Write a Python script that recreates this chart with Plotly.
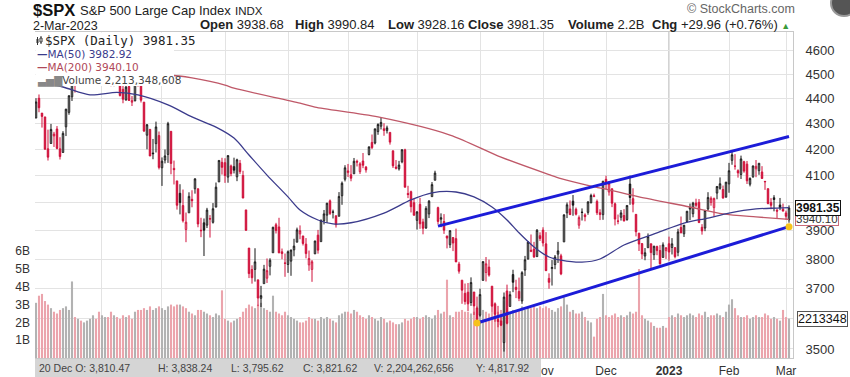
import math
import pandas as pd
import plotly.graph_objects as go

# ---------------- data ----------------
holidays = ["2022-04-15", "2022-05-30", "2022-06-20", "2022-07-04", "2022-09-05",
            "2022-11-24", "2022-12-26", "2023-01-02", "2023-01-16", "2023-02-20"]
dates = [d.strftime("%Y-%m-%d") for d in pd.bdate_range("2022-03-02", "2023-03-02")
         if d.strftime("%Y-%m-%d") not in holidays]

prev_close_before = 4306.26

opens = [
    4322.56, 4401.31, 4342.12, 4327.01, 4202.66, 4223.10, 4252.55, 4279.50, 4202.75, 4188.82, 4288.14, 4345.11, 4407.34, 4462.40, 4469.10, 4493.10, 4469.98, 4522.66, 4541.09, 4602.86, 4624.20, 4599.02,
    4540.32, 4547.97, 4572.45, 4494.17, 4474.65, 4494.15, 4462.64, 4437.59, 4394.30, 4449.12, 4385.63, 4390.63, 4472.26, 4489.17, 4385.83, 4255.34, 4278.14, 4186.52, 4222.58, 4253.75,
    4130.61, 4159.78, 4181.18, 4270.43, 4128.17, 4081.27, 4035.18, 3990.08, 3903.95, 3963.90, 4013.02, 4052.00, 4051.98, 3899.00, 3927.76, 3919.42, 3942.94, 3929.59, 3984.60, 4077.43, 4151.09,
    4149.78, 4095.41, 4137.57, 4134.72, 4096.47, 4147.12, 4101.65, 3974.39, 3838.15, 3763.52, 3764.05, 3728.18, 3665.90, 3715.31, 3733.89, 3774.71, 3821.75, 3920.76, 3913.00, 3825.09, 3785.99,
    3781.00, 3792.61, 3831.98, 3858.85, 3888.26, 3880.94, 3851.95, 3779.67, 3763.99, 3818.00, 3883.79, 3860.73, 3935.32, 3955.47, 4007.51, 3965.72, 3953.22, 3951.43, 4026.13, 4087.33,
    4112.38, 4104.21, 4107.96, 4154.85, 4115.87, 4155.93, 4133.11, 4181.02, 4227.40, 4225.02, 4269.37, 4290.46, 4280.40, 4273.13, 4266.31, 4195.08, 4133.09, 4126.55, 4153.26, 4198.74, 4034.58, 4041.25, 4000.67,
    3936.73, 3994.66, 3930.89, 3909.43, 3959.94, 4022.94, 4083.67, 3982.71, 3940.73, 3932.41, 3880.95, 3849.91, 3875.23, 3871.40, 3782.36, 3727.14, 3682.72, 3686.44, 3651.94, 3687.01, 3633.48,
    3609.78, 3726.46, 3753.25, 3771.97, 3706.74, 3647.51, 3595.86, 3590.83, 3520.37, 3690.41, 3638.65, 3746.26, 3703.11, 3689.05, 3657.10, 3762.01, 3799.44, 3825.97, 3834.69, 3808.26, 3881.85,
    3901.79, 3852.90, 3733.25, 3766.98, 3780.71, 3817.02, 3810.94, 3859.89, 3963.72, 3977.97, 4006.41, 3976.82, 3919.26, 3966.39, 3956.23, 3965.51, 4000.30, 4023.34, 4005.36, 3964.19, 3957.18,
    4087.14, 4040.17, 4052.02, 3996.63, 3933.28, 3947.79, 3954.17, 3939.29, 4069.38, 4015.54, 3958.37, 3890.91, 3853.79, 3810.47, 3839.49, 3853.26, 3815.11, 3843.34, 3829.56, 3805.45, 3829.06,
    3853.29, 3840.36, 3839.74, 3823.37, 3910.82, 3888.57, 3932.35, 3977.57, 3960.60, 3999.28, 4002.25, 3911.84, 3909.04, 3978.14, 4001.74, 3982.71, 4036.08, 4053.72, 4049.27, 4020.85,
    4070.07, 4158.68, 4136.69, 4119.57, 4105.35, 4153.47, 4144.25, 4068.92, 4096.62, 4126.70, 4119.50, 4114.75, 4077.39, 4052.35, 4001.83, 4018.60, 3973.24, 3992.36, 3977.19,
    3963.34, 3938.68,
]
highs = [
    4401.48, 4416.78, 4342.12, 4327.01, 4276.94, 4299.40, 4268.28, 4291.01, 4247.57, 4271.05, 4358.90, 4412.67, 4465.40, 4481.75, 4522.00, 4501.07, 4520.58, 4546.03, 4575.65, 4637.30, 4627.77, 4603.07,
    4548.70, 4583.50, 4593.45, 4503.94, 4521.16, 4520.41, 4464.35, 4471.00, 4453.92, 4460.46, 4410.31, 4471.03, 4488.29, 4512.94, 4385.83, 4299.02, 4278.14, 4240.71, 4308.45, 4269.68,
    4169.81, 4200.10, 4307.66, 4270.43, 4157.69, 4081.27, 4068.82, 4049.09, 3964.80, 4038.88, 4046.46, 4090.72, 4051.98, 3945.96, 3943.42, 3981.88, 3955.68, 3999.33, 4075.14, 4158.49, 4168.34,
    4166.54, 4177.51, 4142.67, 4168.78, 4164.86, 4160.14, 4119.10, 3974.39, 3838.15, 3778.18, 3837.56, 3728.18, 3707.71, 3779.65, 3801.79, 3802.58, 3913.65, 3927.72, 3945.86, 3836.50, 3818.99,
    3829.82, 3832.19, 3870.91, 3910.63, 3918.50, 3880.94, 3873.41, 3829.44, 3796.41, 3863.62, 3902.44, 3939.81, 3974.13, 3999.29, 4012.44, 3975.30, 3953.22, 4039.56, 4078.95, 4140.15,
    4144.95, 4140.47, 4167.66, 4161.29, 4151.58, 4186.62, 4137.30, 4211.03, 4257.91, 4280.47, 4301.79, 4325.28, 4302.18, 4292.53, 4266.31, 4195.08, 4159.77, 4156.56, 4200.54, 4203.04, 4062.99, 4044.98, 4015.37,
    3970.23, 4018.43, 3942.55, 3987.89, 4010.50, 4076.81, 4119.28, 3986.16, 3961.94, 3959.14, 3880.95, 3900.45, 3876.01, 3907.07, 3790.20, 3727.14, 3715.67, 3717.53, 3736.74, 3687.01, 3671.44,
    3698.35, 3791.92, 3806.91, 3797.93, 3706.74, 3652.17, 3640.66, 3608.34, 3685.41, 3712.00, 3689.73, 3762.79, 3728.58, 3736.00, 3757.89, 3810.74, 3862.85, 3886.15, 3859.95, 3905.42, 3893.73,
    3911.79, 3894.44, 3750.59, 3796.34, 3813.95, 3859.40, 3818.20, 3958.33, 4001.48, 4008.97, 4028.84, 3983.09, 3954.33, 3979.89, 3962.00, 4005.88, 4033.78, 4034.02, 4012.27, 3976.77, 4080.11,
    4100.51, 4080.48, 4052.45, 4001.51, 3957.57, 3974.19, 3977.02, 3990.71, 4100.96, 4053.76, 3958.37, 3890.91, 3854.86, 3838.24, 3889.82, 3853.26, 3845.80, 3846.65, 3848.32, 3858.19, 3839.85,
    3878.46, 3873.16, 3839.74, 3906.19, 3950.57, 3919.83, 3970.07, 3997.76, 4003.95, 4015.39, 4014.16, 3922.94, 3972.96, 4039.31, 4023.92, 4019.55, 4061.57, 4094.21, 4063.85, 4077.16,
    4148.95, 4195.44, 4182.36, 4124.63, 4176.54, 4156.85, 4156.23, 4094.36, 4138.90, 4159.77, 4148.11, 4136.54, 4081.51, 4052.35, 4017.37, 4028.30, 3978.25, 4018.05, 3997.50,
    3971.73, 3990.84,
]
lows = [
    4322.56, 4345.56, 4284.98, 4199.85, 4157.87, 4223.10, 4209.80, 4200.49, 4161.72, 4187.90, 4251.99, 4335.65, 4390.57, 4424.30, 4469.10, 4455.81, 4465.17, 4501.07, 4517.69, 4581.32, 4588.18, 4530.41,
    4507.57, 4539.21, 4514.17, 4450.04, 4450.30, 4474.60, 4408.38, 4381.34, 4392.70, 4390.77, 4370.30, 4390.63, 4448.76, 4384.47, 4267.62, 4200.82, 4175.04, 4162.90, 4188.63, 4124.28,
    4062.51, 4147.08, 4148.91, 4106.01, 4067.91, 3975.48, 3958.17, 3928.82, 3858.87, 3963.90, 3983.99, 4033.93, 3911.91, 3876.58, 3810.32, 3909.04, 3875.13, 3925.03, 3984.60, 4077.43, 4104.88,
    4073.85, 4074.37, 4098.67, 4109.18, 4080.19, 4107.20, 4017.17, 3900.16, 3734.30, 3715.31, 3722.30, 3639.77, 3636.87, 3715.31, 3717.69, 3743.52, 3821.75, 3889.66, 3820.14, 3799.02, 3738.67,
    3752.10, 3742.06, 3809.37, 3858.85, 3869.34, 3847.22, 3802.36, 3759.07, 3721.56, 3817.18, 3818.63, 3860.73, 3922.03, 3927.64, 3955.77, 3943.46, 3910.74, 3951.43, 3992.97, 4079.22,
    4096.02, 4079.81, 4107.96, 4135.42, 4107.31, 4128.97, 4112.09, 4177.26, 4201.41, 4219.78, 4256.90, 4277.77, 4253.08, 4261.98, 4218.70, 4129.86, 4124.03, 4119.97, 4147.59, 4057.66, 4017.42, 3965.21, 3954.53,
    3903.65, 3906.21, 3886.75, 3906.03, 3944.81, 4022.94, 4083.67, 3921.84, 3912.16, 3888.28, 3837.08, 3838.50, 3827.54, 3789.49, 3749.45, 3647.47, 3644.76, 3623.29, 3640.61, 3610.40, 3584.13,
    3604.93, 3726.46, 3722.66, 3739.22, 3620.73, 3588.10, 3570.12, 3573.86, 3491.58, 3579.68, 3638.65, 3686.53, 3666.51, 3656.44, 3647.42, 3741.65, 3799.44, 3824.07, 3803.79, 3808.26, 3863.18,
    3843.80, 3758.68, 3698.15, 3708.84, 3764.70, 3786.28, 3744.22, 3859.89, 3944.82, 3956.40, 3953.17, 3954.34, 3906.54, 3935.98, 3933.34, 3956.88, 3998.66, 4020.76, 3955.77, 3937.65, 3938.58,
    4050.87, 4026.63, 3984.49, 3918.39, 3922.68, 3935.83, 3933.04, 3935.30, 3993.03, 3965.65, 3879.45, 3827.91, 3800.04, 3795.62, 3839.49, 3764.49, 3797.01, 3813.22, 3780.78, 3805.45, 3800.34,
    3794.33, 3815.77, 3802.42, 3809.56, 3890.42, 3877.29, 3928.54, 3937.56, 3947.67, 3984.57, 3926.59, 3885.54, 3897.86, 3971.64, 3989.79, 3949.06, 4013.29, 4048.70, 4015.55, 4020.44,
    4037.20, 4141.88, 4123.36, 4093.38, 4088.39, 4111.67, 4069.67, 4060.79, 4092.67, 4095.01, 4103.98, 4089.49, 4047.95, 3995.19, 3976.90, 3969.19, 3943.08, 3973.55, 3968.98,
    3939.05, 3928.16,
]
closes = [
    4386.54, 4363.49, 4328.87, 4201.09, 4170.70, 4277.88, 4259.52, 4204.31, 4173.11, 4262.45, 4357.86, 4411.67, 4463.12, 4461.18, 4511.61, 4456.24, 4520.16, 4543.06, 4575.52, 4631.60, 4602.45, 4530.41,
    4545.86, 4582.64, 4525.12, 4481.15, 4500.21, 4488.28, 4412.53, 4397.45, 4446.59, 4392.59, 4391.69, 4462.21, 4459.45, 4393.66, 4271.78, 4296.12, 4175.20, 4183.96, 4287.50, 4131.93,
    4155.38, 4175.48, 4300.17, 4146.87, 4123.34, 3991.24, 4001.05, 3935.18, 3930.08, 4023.89, 4008.01, 4088.85, 3923.68, 3900.79, 3901.36, 3973.75, 3941.48, 3978.73, 4057.84, 4158.24, 4132.15,
    4101.23, 4176.82, 4108.54, 4121.43, 4160.68, 4115.77, 4017.82, 3900.86, 3749.63, 3735.48, 3789.99, 3666.77, 3674.84, 3764.79, 3759.89, 3795.73, 3911.74, 3900.11, 3821.55, 3818.83, 3785.38,
    3825.33, 3831.39, 3845.08, 3902.62, 3899.38, 3854.43, 3818.80, 3801.78, 3790.38, 3863.16, 3830.85, 3936.69, 3959.90, 3998.95, 3961.63, 3966.84, 3921.05, 4023.61, 4072.43, 4130.29,
    4118.63, 4091.19, 4155.17, 4151.94, 4145.19, 4140.06, 4122.47, 4210.24, 4207.27, 4280.15, 4297.14, 4305.20, 4274.04, 4283.74, 4228.48, 4137.99, 4128.73, 4140.77, 4199.12, 4057.66, 4030.61, 3986.16, 3955.00,
    3966.85, 3924.26, 3908.19, 3979.87, 4006.18, 4067.36, 4110.41, 3932.69, 3946.01, 3901.35, 3873.33, 3899.89, 3855.93, 3789.93, 3757.99, 3693.23, 3655.04, 3647.29, 3719.04, 3640.47, 3585.62,
    3678.43, 3790.93, 3783.28, 3744.52, 3639.66, 3612.39, 3588.84, 3577.03, 3669.91, 3583.07, 3677.95, 3719.98, 3695.16, 3665.78, 3752.75, 3797.34, 3859.11, 3830.60, 3807.30, 3901.06, 3871.98,
    3856.10, 3759.69, 3719.89, 3770.55, 3806.80, 3828.11, 3748.57, 3956.37, 3992.93, 3957.25, 3991.73, 3958.79, 3946.56, 3965.34, 3949.94, 4003.58, 4027.26, 4026.12, 3963.94, 3957.63, 4080.11,
    4076.57, 4071.70, 3998.84, 3941.26, 3933.92, 3963.51, 3934.38, 3990.56, 4019.65, 3995.32, 3895.75, 3852.36, 3817.66, 3821.62, 3878.44, 3822.39, 3844.82, 3829.25, 3783.22, 3849.28, 3839.50,
    3824.14, 3852.97, 3808.10, 3895.08, 3892.09, 3919.25, 3969.61, 3983.17, 3999.09, 3990.97, 3928.86, 3898.85, 3972.61, 4019.81, 4016.95, 4016.22, 4060.43, 4070.56, 4017.77, 4076.60,
    4119.21, 4179.76, 4136.48, 4111.08, 4164.00, 4117.86, 4081.50, 4090.46, 4137.29, 4136.13, 4147.60, 4090.41, 4079.09, 3997.34, 3991.05, 4012.32, 3970.04, 3982.24, 3970.15,
    3951.39, 3981.35,
]
volume_b = [
    3.1, 3.5, 3.6, 3.2, 3.0, 2.8, 2.6, 2.5, 2.7, 2.8, 2.9, 2.7, 4.3, 2.3, 2.2, 2.1, 2.0, 2.1, 2.2, 2.4, 2.2, 2.6,
    2.4, 2.3, 2.3, 2.6, 2.4, 2.3, 2.2, 2.4, 2.3, 2.4, 2.2, 2.6, 2.7, 2.7, 2.8, 2.7, 2.9, 2.7, 2.8, 2.9,
    2.8, 2.7, 2.9, 3.0, 2.9, 3.0, 3.0, 2.9, 2.8, 2.6, 2.5, 2.4, 2.7, 2.7, 2.6, 2.5, 2.4, 2.3, 2.5, 2.4, 3.8,
    2.2, 2.1, 2.0, 2.1, 2.2, 2.3, 2.6, 2.8, 3.0, 2.9, 2.8, 3.0, 3.1, 2.8, 2.7, 2.6, 3.5, 2.6, 2.5, 2.4, 2.6,
    2.4, 2.3, 2.2, 2.1, 2.0, 2.0, 2.1, 2.3, 2.2, 2.2, 2.1, 2.3, 2.2, 2.3, 2.2, 2.1, 2.0, 2.4, 2.5, 2.6,
    2.6, 2.5, 2.7, 2.6, 2.4, 2.3, 2.2, 2.4, 2.3, 2.2, 2.1, 2.3, 2.2, 2.0, 2.1, 2.0, 1.9, 1.9, 2.0, 2.2, 2.1, 2.2, 2.3,
    2.3, 2.2, 2.3, 2.4, 2.3, 2.2, 2.4, 2.7, 2.5, 2.6, 4.4, 2.4, 2.3, 2.6, 2.6, 2.7, 2.6, 2.6, 2.5, 2.6, 2.9,
    2.6, 2.7, 2.6, 2.5, 2.6, 2.4, 2.6, 2.7, 3.2, 2.8, 2.6, 2.7, 2.6, 2.7, 2.9, 2.7, 2.8, 2.8, 2.9, 2.8, 2.9,
    2.8, 2.9, 2.8, 2.7, 2.6, 2.8, 2.9, 3.4, 3.0, 2.6, 2.7, 2.5, 2.5, 2.6, 2.3, 2.1, 2.0, 1.2, 2.2, 2.3, 3.6,
    2.4, 2.3, 2.4, 2.5, 2.3, 2.4, 2.3, 2.4, 2.6, 2.5, 2.6, 5.0, 2.4, 2.2, 2.1, 2.0, 1.8, 1.7, 1.7, 1.8, 1.7,
    2.3, 2.4, 2.3, 2.5, 2.4, 2.3, 2.4, 2.5, 2.4, 2.3, 2.5, 2.4, 2.6, 2.3, 2.4, 2.4, 2.5, 2.4, 2.3, 2.6,
    3.0, 3.3, 2.8, 2.4, 2.3, 2.3, 2.4, 2.2, 2.3, 2.4, 2.3, 2.3, 2.5, 2.4, 2.2, 2.3, 2.2, 2.1, 2.7,
    2.3, 2.213348608,
]

ma50_dates = ["2022-03-02", "2022-03-15", "2022-03-28", "2022-04-08", "2022-04-20", "2022-05-04", "2022-05-16",
              "2022-05-26", "2022-06-06", "2022-06-13", "2022-06-22", "2022-07-01", "2022-07-08", "2022-07-18",
              "2022-07-25", "2022-08-02", "2022-08-17", "2022-08-30", "2022-09-09", "2022-09-21", "2022-09-29",
              "2022-10-07", "2022-10-14", "2022-10-20", "2022-10-27", "2022-11-03", "2022-11-09", "2022-11-18",
              "2022-11-29", "2022-12-09", "2022-12-27", "2023-01-10", "2023-01-23", "2023-02-01", "2023-02-14",
              "2023-02-24", "2023-03-02"]
ma50_vals = [4470, 4447, 4415, 4425, 4415, 4375, 4327, 4287, 4244, 4179, 4103, 4022, 3974, 3938, 3924, 3928,
             3963, 4011, 4037, 4040, 4022, 3985, 3938, 3892, 3842, 3807, 3796, 3789, 3800, 3849, 3892, 3927,
             3945, 3963, 3978, 3981, 3982.92]

ma200_dates = ["2022-03-02", "2022-04-01", "2022-05-04", "2022-05-16", "2022-06-01", "2022-06-06", "2022-07-08",
               "2022-07-15", "2022-08-15", "2022-09-19", "2022-10-12", "2022-11-03", "2022-11-09", "2022-11-23",
               "2022-12-02", "2022-12-16", "2023-01-12", "2023-01-30", "2023-02-14", "2023-03-02"]
ma200_vals = [4491, 4494, 4496, 4484, 4455, 4442, 4382, 4366, 4327, 4256, 4171, 4105, 4090, 4062, 4048, 4022,
              3985, 3960, 3949, 3940.10]

upper_dates = ["2022-09-13", "2023-03-02"]
upper_vals = [3916, 4250]
lower_dates = ["2022-09-30", "2023-03-02"]
lower_vals = [3584, 3914]
hline_price = 3652

month_ticks = ["2022-04-01", "2022-05-02", "2022-06-01", "2022-07-01", "2022-08-01", "2022-09-01",
               "2022-10-03", "2022-11-01", "2022-12-01", "2023-01-03", "2023-02-01", "2023-03-01"]
# labels Apr..Oct sit under the readout box in the reference, so they are not shown
month_labels = ["", "", "", "", "", "", "", "Nov", "Dec", "<b>2023</b>", "Feb", "Mar"]
price_ticks = [3500, 3600, 3700, 3800, 3900, 4000, 4100, 4200, 4300, 4400, 4500, 4600]
# 3600 and 4000 are hidden behind the value tags in the reference
price_labels = ["3500", "", "3700", "3800", "3900", "", "4100", "4200", "4300", "4400", "4500", "4600"]
vol_ticks = [1e9, 2e9, 3e9, 4e9, 5e9, 6e9]
vol_labels = ["1B", "2B", "3B", "4B", "5B", "6B"]

assert len(dates) == 252
for arr in (opens, highs, lows, closes, volume_b):
    assert len(arr) == 252, len(arr)

# ---------------- build ----------------
pos = {d: i for i, d in enumerate(dates)}
xs = list(range(len(dates)))
prev = [prev_close_before] + closes[:-1]
up = [c >= p for c, p in zip(closes, prev)]

RED = "#d0103a"
BLK = "#151515"

fig = go.Figure()

fig.add_trace(go.Bar(
    x=xs, y=[v * 1e9 for v in volume_b],
    marker=dict(color=["#b2b2b2" if u else "#eba4ac" for u in up], line=dict(width=0)),
    yaxis="y", hoverinfo="skip", showlegend=False))

for flag, col in ((True, BLK), (False, RED)):
    idx = [i for i in xs if up[i] == flag]
    fig.add_trace(go.Candlestick(
        x=idx, open=[opens[i] for i in idx], high=[highs[i] for i in idx],
        low=[lows[i] for i in idx], close=[closes[i] for i in idx],
        increasing=dict(line=dict(color=col, width=1), fillcolor="white"),
        decreasing=dict(line=dict(color=col, width=1), fillcolor=col),
        whiskerwidth=0, yaxis="y2", hoverinfo="skip", showlegend=False))

fig.add_trace(go.Scatter(x=[pos[d] for d in ma200_dates], y=ma200_vals, mode="lines",
                         line=dict(color="#bf5868", width=1.3, shape="spline", smoothing=0.8),
                         yaxis="y2", hoverinfo="skip", showlegend=False))
fig.add_trace(go.Scatter(x=[pos[d] for d in ma50_dates], y=ma50_vals, mode="lines",
                         line=dict(color="#3b3b8c", width=1.3, shape="spline", smoothing=0.8),
                         yaxis="y2", hoverinfo="skip", showlegend=False))
fig.add_trace(go.Scatter(x=[pos[d] for d in upper_dates], y=upper_vals, mode="lines",
                         line=dict(color="#1c1cd8", width=3), yaxis="y2", hoverinfo="skip", showlegend=False))
fig.add_trace(go.Scatter(x=[pos[d] for d in lower_dates], y=lower_vals, mode="lines+markers",
                         line=dict(color="#1c1cd8", width=3),
                         marker=dict(color="#f6c21c", size=7, line=dict(width=0)),
                         yaxis="y2", hoverinfo="skip", showlegend=False))

L, R, T, B = 35, 57, 32, 19
W, H = 850, 377
PW, PH = W - L - R, H - T - B


def px_x(px):
    return (px - L) / PW


def px_y(py):
    return (H - B - py) / PH


shapes = [
    dict(type="line", xref="paper", x0=0, x1=1, yref="y2", y0=math.log10(hline_price), y1=math.log10(hline_price),
         line=dict(color="#5e8c5e", width=2), layer="above"),
    dict(type="line", xref="x", x0=pos["2023-01-03"], x1=pos["2023-01-03"], yref="paper", y0=0, y1=1,
         line=dict(color="#c4c4c4", width=1.5), layer="below"),
    # legend background
    dict(type="rect", xref="paper", yref="paper", x0=px_x(35.5), x1=px_x(174), y0=px_y(86), y1=px_y(32.5),
         fillcolor="white", line=dict(width=0), layer="above"),
    # small candle icon in the legend
    dict(type="line", xref="paper", yref="paper", x0=px_x(37.5), x1=px_x(37.5), y0=px_y(45), y1=px_y(37),
         line=dict(color="#333", width=1), layer="above"),
    dict(type="rect", xref="paper", yref="paper", x0=px_x(36.5), x1=px_x(38.5), y0=px_y(43), y1=px_y(39),
         fillcolor="#333", line=dict(width=0), layer="above"),
    dict(type="line", xref="paper", yref="paper", x0=px_x(41), x1=px_x(41), y0=px_y(44), y1=px_y(36),
         line=dict(color="#333", width=1), layer="above"),
    dict(type="rect", xref="paper", yref="paper", x0=px_x(40), x1=px_x(42), y0=px_y(42), y1=px_y(38),
         fillcolor="white", line=dict(color="#333", width=1), layer="above"),
    # hover readout box
    dict(type="rect", xref="paper", yref="paper", x0=px_x(35), x1=px_x(541), y0=px_y(377), y1=px_y(359),
         fillcolor="#d5d5d5", line=dict(width=0), layer="above"),
    # logo circle
    dict(type="circle", xref="paper", yref="paper", x0=px_x(831), x1=px_x(857), y0=px_y(16), y1=px_y(-10),
         fillcolor="#555555", line=dict(color="#999999", width=2), layer="above"),
]

ann = []


def text(px, py, s, size=12, color="#222", family="Liberation Sans, Arial", anchor="left", **kw):
    ann.append(dict(xref="paper", yref="paper", x=px_x(px), y=px_y(py), text=s, showarrow=False,
                    xanchor=anchor, yanchor="middle", font=dict(size=size, color=color, family=family),
                    borderpad=0, **kw))


# header
text(32, 10, "<b>$SPX</b>", size=16.5, color="#111")
text(79, 10.5, "S&P 500 Large Cap Index", size=13, color="#222")
text(234, 10.5, "INDX", size=11.5, color="#222")
text(32, 25.5, "2-Mar-2023", size=12.5, color="#222")
text(199, 25, "<b>Open</b> 3938.68", size=13)
text(294, 25, "<b>High</b> 3990.84", size=13)
text(387, 25, "<b>Low</b> 3928.16", size=13)
text(467, 25, "<b>Close</b> 3981.35", size=13)
text(567, 25, "<b>Volume</b> 2.2B", size=13)
text(651, 25, "<b>Chg</b> +29.96 (+0.76%) <span style='color:#3a9a3a;font-size:9px'>▲</span>", size=13)
text(686, 9, "© StockCharts.com", size=12.5, color="#666")

# legend
text(44, 41, "$SPX (Daily) 3981.35", size=12.5, color="#222", family="DejaVu Sans Mono")
text(36, 54, "<b>—</b>MA(50) 3982.92", size=10.5, color="#3b3b8c", family="DejaVu Sans")
text(36, 67, "<b>—</b>MA(200) 3940.10", size=10.5, color="#b04858", family="DejaVu Sans")
text(36, 80, "<span style='color:#888'>▃▅▇</span>Volume 2,213,348,608", size=10.5, color="#444",
     family="DejaVu Sans")

# hover readout
for px, s in ((38, "20 Dec O: 3,810.47"), (157, "H: 3,838.24"), (230, "L: 3,795.62"), (302, "C: 3,821.62"),
              (373, "V: 2,204,262,656"), (475, "Y: 4,817.92")):
    text(px, 368, s, size=10.5, color="#444")

# right-side value tags
ann.append(dict(xref="paper", x=1, xanchor="left", xshift=2, yref="y2", y=math.log10(3940.10), yanchor="middle",
                text="3940.10", showarrow=False, bgcolor="white", bordercolor="#c86a7a", borderwidth=1, borderpad=0,
                font=dict(size=11.5, color="#333")))
ann.append(dict(xref="paper", x=1, xanchor="left", xshift=2, yref="y2", y=math.log10(3981.35), yanchor="middle",
                text="<b>3981.35</b>", showarrow=False, bgcolor="white", bordercolor="#111", borderwidth=1,
                borderpad=0, font=dict(size=12, color="#111")))
ann.append(dict(xref="paper", x=1, xanchor="left", xshift=4, yref="y", y=volume_b[-1] * 1e9, yanchor="middle",
                text="2213348", showarrow=False, bgcolor="white", bordercolor="#555", borderwidth=1, borderpad=0,
                font=dict(size=12.5, color="#111")))

y_lo = 3471.2
y_hi = 4676.3

fig.update_layout(
    template="none",
    width=W, height=H, margin=dict(l=L, r=R, t=T, b=B, pad=0, autoexpand=False),
    paper_bgcolor="white", plot_bgcolor="white",
    font=dict(family="Liberation Sans, Arial", size=12, color="#333"),
    showlegend=False, hovermode=False, bargap=0.3,
    xaxis=dict(range=[-0.33, len(dates) + 0.33], tickvals=[pos[d] for d in month_ticks], ticktext=month_labels,
               showgrid=True, gridcolor="#e3e3e3", gridwidth=1, zeroline=False, ticks="",
               tickfont=dict(size=12, color="#333"), showline=True, linecolor="#c8c8c8", mirror=True,
               rangeslider=dict(visible=False), ticklabelstandoff=2, automargin=False),
    yaxis=dict(range=[0, PH / 17.8 * 1e9], tickvals=vol_ticks, ticktext=vol_labels, showgrid=False,
               zeroline=False, side="left", ticks="", tickfont=dict(size=12, color="#333"),
               showline=False, ticklabelstandoff=4, automargin=False),
    yaxis2=dict(overlaying="y", side="right", type="log", range=[math.log10(y_lo), math.log10(y_hi)],
                tickvals=price_ticks, ticktext=price_labels, showgrid=True,
                gridcolor="#e3e3e3", zeroline=False, ticks="", tickfont=dict(size=13, color="#333"),
                showline=True, linecolor="#c8c8c8", ticklabelstandoff=9, automargin=False),
    shapes=shapes, annotations=ann,
)

fig.write_html("out.html", config={"displayModeBar": False},
               post_script="document.body.style.margin='0';document.body.style.padding='0';"
                           "document.documentElement.style.overflow='hidden';")
